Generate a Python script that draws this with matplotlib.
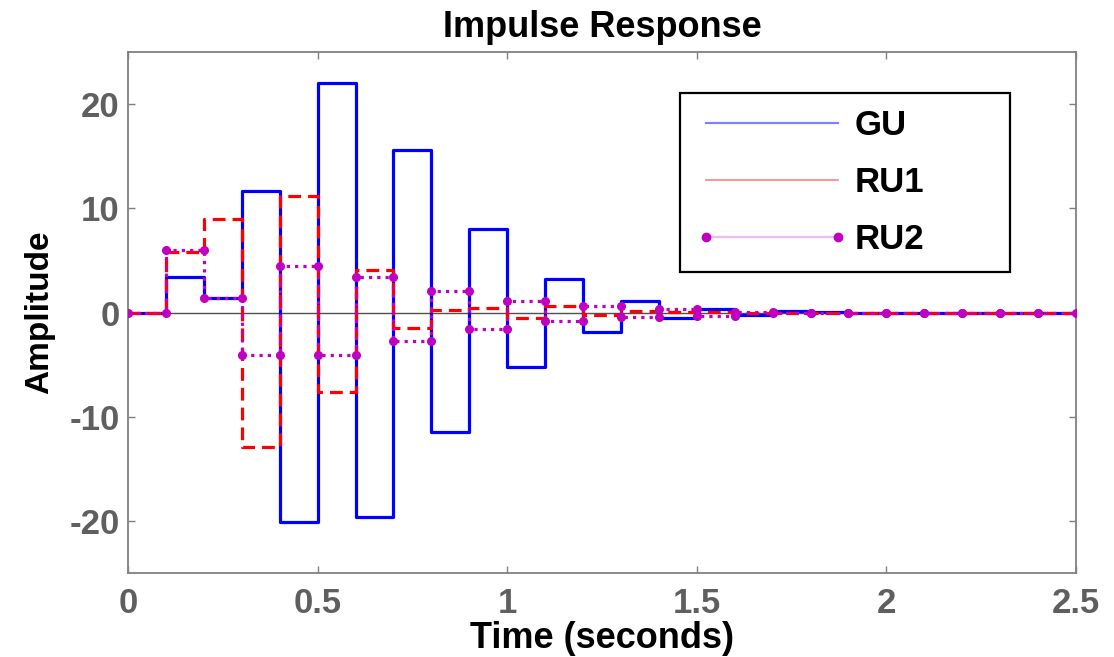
import numpy as np
import matplotlib
matplotlib.use("Agg")
import matplotlib.pyplot as plt
from matplotlib.lines import Line2D

plt.rcParams['font.family'] = ['Liberation Sans', 'DejaVu Sans']
plt.rcParams['axes.unicode_minus'] = False

# time grid (s) and the three sampled impulse responses
t = [0.0, 0.1, 0.2, 0.3, 0.4, 0.5, 0.6, 0.7, 0.8, 0.9, 1.0, 1.1, 1.2,
     1.3, 1.4, 1.5, 1.6, 1.7, 1.8, 1.9, 2.0, 2.1, 2.2, 2.3, 2.4, 2.5]
gu = [0, 3.4, 1.4, 11.7, -20.1, 22.0, -19.6, 15.6, -11.5, 8.0, -5.2, 3.2, -1.9,
      1.1, -0.5, 0.3, -0.2, 0.1, 0.03, 0, 0, 0, 0, 0, 0, 0]
ru1 = [0, 5.8, 9.0, -12.9, 11.2, -7.6, 4.1, -1.5, 0.2, 0.4, -0.5, 0.65, -0.25,
       0.15, 0.05, 0.03, 0, 0, 0, 0, 0, 0, 0, 0, 0, 0]
ru2 = [0, 6.0, 1.4, -4.1, 4.5, -4.1, 3.4, -2.7, 2.1, -1.55, 1.1, -0.85, 0.6,
       -0.42, 0.33, -0.3, 0.05, 0, 0, 0, 0, 0, 0, 0, 0, 0]
names = ['GU', 'RU1', 'RU2']


def stairs(x, y):
    # zero-order-hold vertices, like matlab's impulse() for discrete systems
    xs = np.repeat(np.asarray(x, float), 2)[1:-1]
    ys = np.repeat(np.asarray(y, float), 2)[:-2]
    return xs, ys


fig = plt.figure(figsize=(11.14, 6.57), dpi=100)
ax = fig.add_axes([128 / 1114, 84 / 657, 948 / 1114, 521 / 657])

ax.axhline(0, color='#505050', lw=1.0, zorder=1)

x1, y1 = stairs(t, gu)
ax.plot(x1, y1, color='#0000ff', lw=2.3, zorder=2)
x2, y2 = stairs(t, ru1)
ax.plot(x2, y2, color='#ff0000', lw=2.3, ls=(0, (4, 2.2)), zorder=3)
x3, y3 = stairs(t, ru2)
ax.plot(x3, y3, color='#c000c0', lw=2.3, ls=(0, (1, 1.6)), marker='o',
        ms=5.5, mfc='#c000c0', mec='#c000c0', zorder=4)

ax.set_xlim(0, 2.5)
ax.set_ylim(-25, 25)
ax.set_xticks([0, 0.5, 1, 1.5, 2, 2.5])
ax.set_xticklabels(['0', '0.5', '1', '1.5', '2', '2.5'])
ax.set_yticks([-20, -10, 0, 10, 20])

for s in ax.spines.values():
    s.set_color('#808080')
    s.set_linewidth(1.3)
ax.tick_params(direction='in', length=5, width=1, color='#808080',
               top=True, right=True, labelcolor='#5f5f5f', labelsize=25)
ax.tick_params(axis='x', pad=10)
ax.tick_params(axis='y', pad=6)
for lab in ax.get_xticklabels() + ax.get_yticklabels():
    lab.set_fontweight('bold')

ax.set_title('Impulse Response', fontsize=26, fontweight='bold', pad=11)
ax.set_xlabel('Time (seconds)', fontsize=26, fontweight='bold', labelpad=1)
ax.set_ylabel('Amplitude', fontsize=24, fontweight='bold', labelpad=10)

handles = [
    Line2D([], [], color='#8080ff', lw=1.6),
    Line2D([], [], color='#ff8080', lw=1.2),
    Line2D([], [], color='#ecbcec', lw=1.6, marker='o', ms=6,
           mfc='#c000c0', mec='#c000c0'),
]
leg = ax.legend(handles, names, loc='upper left',
                bbox_to_anchor=(0.582, 0.921, 0.348, 0.0), mode='expand',
                prop={'weight': 'bold', 'size': 25},
                numpoints=2, handlelength=4.4, handletextpad=0.2,
                labelspacing=0.7, borderpad=0.45, borderaxespad=0,
                fancybox=False, framealpha=1, edgecolor='black')
leg.get_frame().set_linewidth(1.6)

fig.savefig('out.png', dpi=100)
